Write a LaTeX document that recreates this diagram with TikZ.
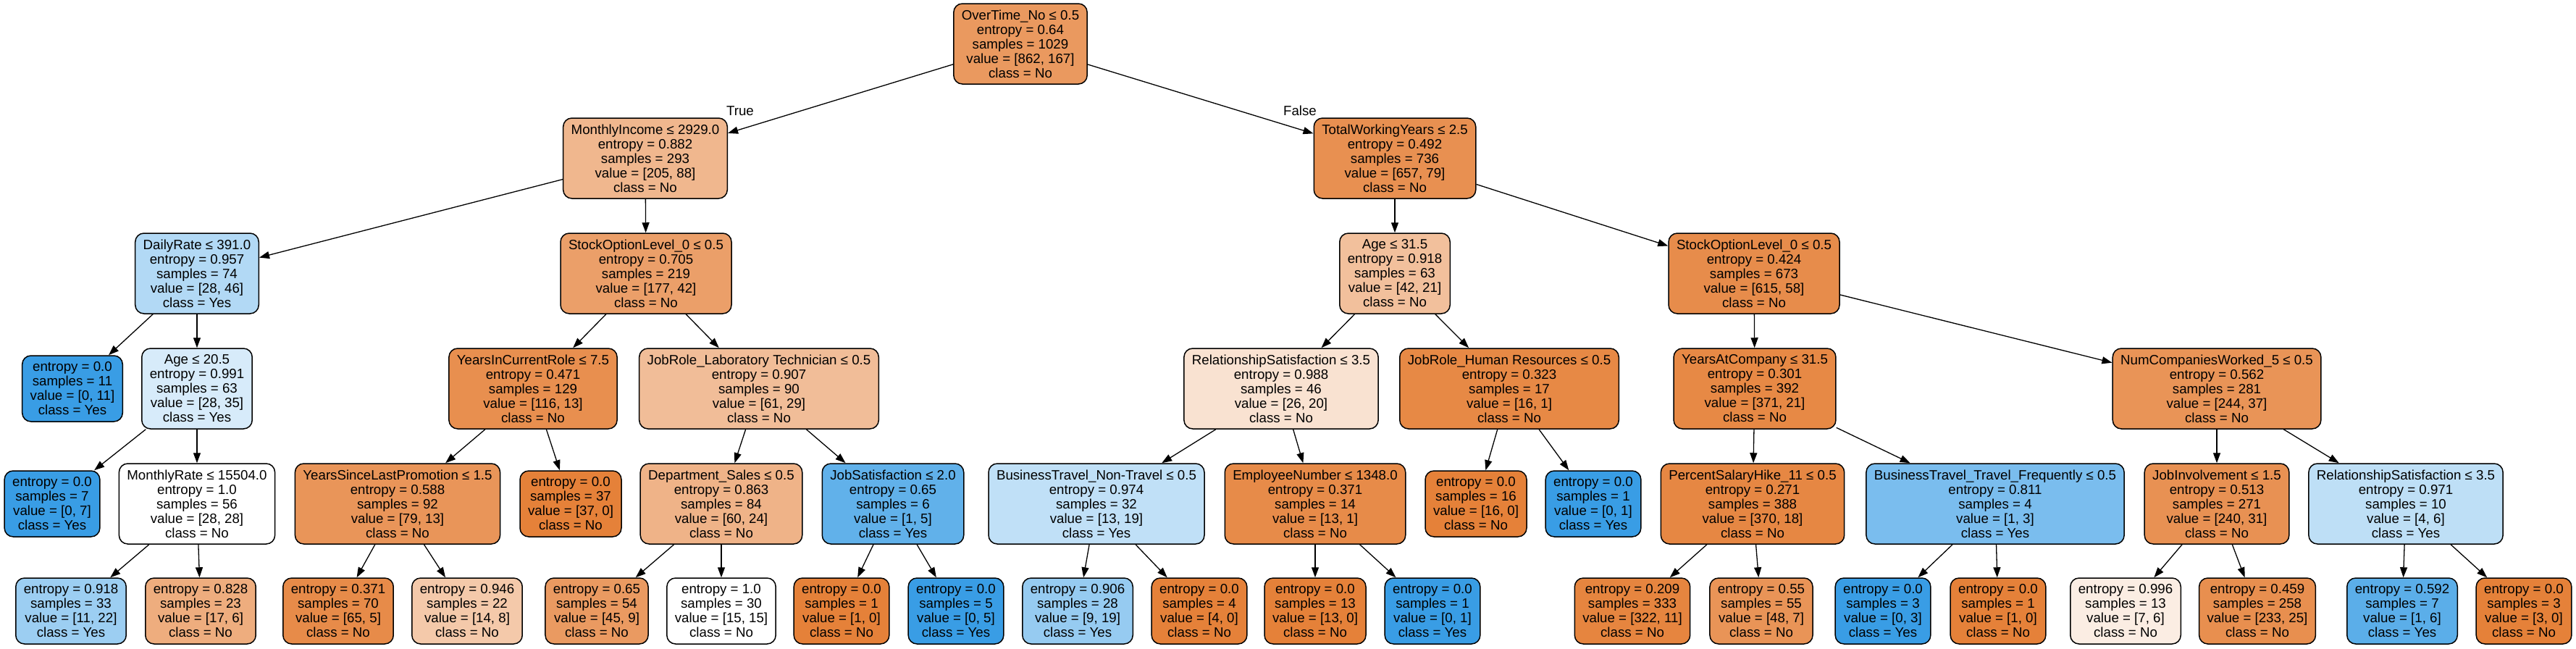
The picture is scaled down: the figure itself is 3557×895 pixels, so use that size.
\documentclass[tikz,border=0pt]{standalone}
\usepackage{fontspec}
\setmainfont{Liberation Sans}
\usetikzlibrary{arrows.meta}
\definecolor{cNo}{RGB}{229,129,57}
\definecolor{cYes}{RGB}{57,157,229}
\newcommand{\tfont}{\fontsize{18.7}{20}\selectfont}
\tikzset{
  tbox/.style={draw=black, line width=1.5pt, rounded corners=12pt, align=center, font=\tfont, inner xsep=11pt, inner ysep=0pt},
  tnode/.style={tbox, minimum height=111pt},
  tleaf/.style={tbox, minimum height=91pt},
  fno/.style={fill=cNo!#1!white},
  fyes/.style={fill=cYes!#1!white},
  conn/.style={line width=1.3pt, -{Triangle[length=14pt,width=10pt]}},
  elabel/.style={font=\tfont, inner sep=0pt}
}
\begin{document}
\begin{tikzpicture}[x=1pt,y=-1pt]
\useasboundingbox (0,0) rectangle (3557,895);
% row 0
\node[tnode,fno=81] (n0) at (1409,60.5) {OverTime\_No ≤ 0.5\\entropy = 0.64\\samples = 1029\\value = [862, 167]\\class = No};
% row 1
\node[tnode,fno=57] (n1) at (891,218.5) {MonthlyIncome ≤ 2929.0\\entropy = 0.882\\samples = 293\\value = [205, 88]\\class = No};
\node[tnode,fno=88] (n2) at (1926,218.5) {TotalWorkingYears ≤ 2.5\\entropy = 0.492\\samples = 736\\value = [657, 79]\\class = No};
% row 2
\node[tnode,fyes=39] (n3) at (272,377.5) {DailyRate ≤ 391.0\\entropy = 0.957\\samples = 74\\value = [28, 46]\\class = Yes};
\node[tnode,fno=76] (n4) at (892,377.5) {StockOptionLevel\_0 ≤ 0.5\\entropy = 0.705\\samples = 219\\value = [177, 42]\\class = No};
\node[tnode,fno=50] (n5) at (1926,377.5) {Age ≤ 31.5\\entropy = 0.918\\samples = 63\\value = [42, 21]\\class = No};
\node[tnode,fno=91] (n6) at (2422,377.5) {StockOptionLevel\_0 ≤ 0.5\\entropy = 0.424\\samples = 673\\value = [615, 58]\\class = No};
% row 3
\node[tleaf,fyes=100] (n7) at (100,536.5) {entropy = 0.0\\samples = 11\\value = [0, 11]\\class = Yes};
\node[tnode,fyes=20] (n8) at (272,536.5) {Age ≤ 20.5\\entropy = 0.991\\samples = 63\\value = [28, 35]\\class = Yes};
\node[tnode,fno=89] (n9) at (736,536.5) {YearsInCurrentRole ≤ 7.5\\entropy = 0.471\\samples = 129\\value = [116, 13]\\class = No};
\node[tnode,fno=52] (n10) at (1048,536.5) {JobRole\_Laboratory Technician ≤ 0.5\\entropy = 0.907\\samples = 90\\value = [61, 29]\\class = No};
\node[tnode,fno=23] (n11) at (1769,536.5) {RelationshipSatisfaction ≤ 3.5\\entropy = 0.988\\samples = 46\\value = [26, 20]\\class = No};
\node[tnode,fno=94] (n12) at (2084,536.5) {JobRole\_Human Resources ≤ 0.5\\entropy = 0.323\\samples = 17\\value = [16, 1]\\class = No};
\node[tnode,fno=94] (n13) at (2423,536.5) {YearsAtCompany ≤ 31.5\\entropy = 0.301\\samples = 392\\value = [371, 21]\\class = No};
\node[tnode,fno=85] (n14) at (3061,536.5) {NumCompaniesWorked\_5 ≤ 0.5\\entropy = 0.562\\samples = 281\\value = [244, 37]\\class = No};
% row 4
\node[tleaf,fyes=100] (n15) at (72,695.5) {entropy = 0.0\\samples = 7\\value = [0, 7]\\class = Yes};
\node[tnode,fill=white] (n16) at (272,695.5) {MonthlyRate ≤ 15504.0\\entropy = 1.0\\samples = 56\\value = [28, 28]\\class = No};
\node[tnode,fno=84] (n17) at (549,695.5) {YearsSinceLastPromotion ≤ 1.5\\entropy = 0.588\\samples = 92\\value = [79, 13]\\class = No};
\node[tleaf,fno=100] (n18) at (788,695.5) {entropy = 0.0\\samples = 37\\value = [37, 0]\\class = No};
\node[tnode,fno=60] (n19) at (996,695.5) {Department\_Sales ≤ 0.5\\entropy = 0.863\\samples = 84\\value = [60, 24]\\class = No};
\node[tnode,fyes=80] (n20) at (1233,695.5) {JobSatisfaction ≤ 2.0\\entropy = 0.65\\samples = 6\\value = [1, 5]\\class = Yes};
\node[tnode,fyes=32] (n21) at (1514,695.5) {BusinessTravel\_Non-Travel ≤ 0.5\\entropy = 0.974\\samples = 32\\value = [13, 19]\\class = Yes};
\node[tnode,fno=92] (n22) at (1816,695.5) {EmployeeNumber ≤ 1348.0\\entropy = 0.371\\samples = 14\\value = [13, 1]\\class = No};
\node[tleaf,fno=100] (n23) at (2038,695.5) {entropy = 0.0\\samples = 16\\value = [16, 0]\\class = No};
\node[tleaf,fyes=100] (n24) at (2200,695.5) {entropy = 0.0\\samples = 1\\value = [0, 1]\\class = Yes};
\node[tnode,fno=95] (n25) at (2420,695.5) {PercentSalaryHike\_11 ≤ 0.5\\entropy = 0.271\\samples = 388\\value = [370, 18]\\class = No};
\node[tnode,fyes=67] (n26) at (2755,695.5) {BusinessTravel\_Travel\_Frequently ≤ 0.5\\entropy = 0.811\\samples = 4\\value = [1, 3]\\class = Yes};
\node[tnode,fno=87] (n27) at (3061,695.5) {JobInvolvement ≤ 1.5\\entropy = 0.513\\samples = 271\\value = [240, 31]\\class = No};
\node[tnode,fyes=33] (n28) at (3322,695.5) {RelationshipSatisfaction ≤ 3.5\\entropy = 0.971\\samples = 10\\value = [4, 6]\\class = Yes};
% row 5
\node[tleaf,fyes=50] (n29) at (98,843.5) {entropy = 0.918\\samples = 33\\value = [11, 22]\\class = Yes};
\node[tleaf,fno=65] (n30) at (277,843.5) {entropy = 0.828\\samples = 23\\value = [17, 6]\\class = No};
\node[tleaf,fno=92] (n31) at (467,843.5) {entropy = 0.371\\samples = 70\\value = [65, 5]\\class = No};
\node[tleaf,fno=43] (n32) at (645,843.5) {entropy = 0.946\\samples = 22\\value = [14, 8]\\class = No};
\node[tleaf,fno=80] (n33) at (824,843.5) {entropy = 0.65\\samples = 54\\value = [45, 9]\\class = No};
\node[tleaf,fill=white] (n34) at (996,843.5) {entropy = 1.0\\samples = 30\\value = [15, 15]\\class = No};
\node[tleaf,fno=100] (n35) at (1162,843.5) {entropy = 0.0\\samples = 1\\value = [1, 0]\\class = No};
\node[tleaf,fyes=100] (n36) at (1320,843.5) {entropy = 0.0\\samples = 5\\value = [0, 5]\\class = Yes};
\node[tleaf,fyes=53] (n37) at (1488,843.5) {entropy = 0.906\\samples = 28\\value = [9, 19]\\class = Yes};
\node[tleaf,fno=100] (n38) at (1656,843.5) {entropy = 0.0\\samples = 4\\value = [4, 0]\\class = No};
\node[tleaf,fno=100] (n39) at (1816,843.5) {entropy = 0.0\\samples = 13\\value = [13, 0]\\class = No};
\node[tleaf,fyes=100] (n40) at (1978,843.5) {entropy = 0.0\\samples = 1\\value = [0, 1]\\class = Yes};
\node[tleaf,fno=97] (n41) at (2254,843.5) {entropy = 0.209\\samples = 333\\value = [322, 11]\\class = No};
\node[tleaf,fno=85] (n42) at (2432,843.5) {entropy = 0.55\\samples = 55\\value = [48, 7]\\class = No};
\node[tleaf,fyes=100] (n43) at (2600,843.5) {entropy = 0.0\\samples = 3\\value = [0, 3]\\class = Yes};
\node[tleaf,fno=100] (n44) at (2759,843.5) {entropy = 0.0\\samples = 1\\value = [1, 0]\\class = No};
\node[tleaf,fno=14] (n45) at (2935,843.5) {entropy = 0.996\\samples = 13\\value = [7, 6]\\class = No};
\node[tleaf,fno=89] (n46) at (3117,843.5) {entropy = 0.459\\samples = 258\\value = [233, 25]\\class = No};
\node[tleaf,fyes=83] (n47) at (3317,843.5) {entropy = 0.592\\samples = 7\\value = [1, 6]\\class = Yes};
\node[tleaf,fno=100] (n48) at (3485,843.5) {entropy = 0.0\\samples = 3\\value = [3, 0]\\class = No};
% edges
\draw[conn] (n0) -- (n1);
\draw[conn] (n0) -- (n2);
\draw[conn] (n1) -- (n3);
\draw[conn] (n1) -- (n4);
\draw[conn] (n2) -- (n5);
\draw[conn] (n2) -- (n6);
\draw[conn] (n3) -- (n7);
\draw[conn] (n3) -- (n8);
\draw[conn] (n4) -- (n9);
\draw[conn] (n4) -- (n10);
\draw[conn] (n5) -- (n11);
\draw[conn] (n5) -- (n12);
\draw[conn] (n6) -- (n13);
\draw[conn] (n6) -- (n14);
\draw[conn] (n8) -- (n15);
\draw[conn] (n8) -- (n16);
\draw[conn] (n9) -- (n17);
\draw[conn] (n9) -- (n18);
\draw[conn] (n10) -- (n19);
\draw[conn] (n10) -- (n20);
\draw[conn] (n11) -- (n21);
\draw[conn] (n11) -- (n22);
\draw[conn] (n12) -- (n23);
\draw[conn] (n12) -- (n24);
\draw[conn] (n13) -- (n25);
\draw[conn] (n13) -- (n26);
\draw[conn] (n14) -- (n27);
\draw[conn] (n14) -- (n28);
\draw[conn] (n16) -- (n29);
\draw[conn] (n16) -- (n30);
\draw[conn] (n17) -- (n31);
\draw[conn] (n17) -- (n32);
\draw[conn] (n19) -- (n33);
\draw[conn] (n19) -- (n34);
\draw[conn] (n20) -- (n35);
\draw[conn] (n20) -- (n36);
\draw[conn] (n21) -- (n37);
\draw[conn] (n21) -- (n38);
\draw[conn] (n22) -- (n39);
\draw[conn] (n22) -- (n40);
\draw[conn] (n25) -- (n41);
\draw[conn] (n25) -- (n42);
\draw[conn] (n26) -- (n43);
\draw[conn] (n26) -- (n44);
\draw[conn] (n27) -- (n45);
\draw[conn] (n27) -- (n46);
\draw[conn] (n28) -- (n47);
\draw[conn] (n28) -- (n48);
% edge labels
\node[elabel] (ltrue) at (1022,153) {True};
\node[elabel] (lfalse) at (1795,153) {False};
\end{tikzpicture}
\end{document}
